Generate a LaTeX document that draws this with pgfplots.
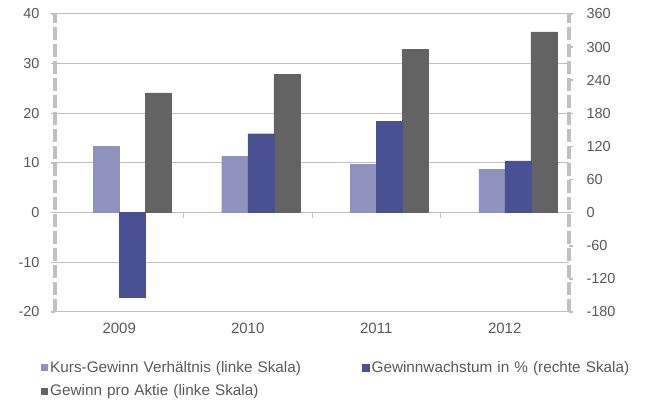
\documentclass[border=0pt]{standalone}
\usepackage{pgfplots}
\pgfplotsset{compat=1.18}
\usepackage{fontspec}
\setmainfont{Liberation Sans}

\definecolor{kgv}{RGB}{143,146,190}
\definecolor{gw}{RGB}{73,81,146}
\definecolor{gpa}{RGB}{99,99,99}
\definecolor{axgray}{RGB}{192,192,192}
\definecolor{txtgray}{RGB}{89,89,89}

\pgfplotsset{
  base/.style={
    scale only axis,
    width=514pt, height=298pt,
    xmin=-0.5, xmax=3.5,
    ybar, bar width=26pt,
    tick align=outside,
    major tick length=4pt,
    ytick style={draw=axgray, line width=1.5pt},
    /pgf/number format/assume math mode=true,
    tick label style={font=\fontsize{14.5}{17}\selectfont, text=txtgray},
    y axis line style={-, draw=axgray, line width=3.5pt, dash pattern=on 13pt off 4pt},
    legend image code/.code={\fill[##1] (0pt,-3.5pt) rectangle (7pt,3.5pt);},
  }
}

\begin{document}
\begin{tikzpicture}
\path[use as bounding box] (-55pt,-91pt) rectangle (590pt,312pt);
\begin{axis}[
  base,
  ymin=-20, ymax=40, ytick={-20,-10,...,40},
  axis x line*=bottom, axis y line*=left,
  x axis line style={-, draw=axgray, line width=1pt},
  xtick={0,1,2,3}, xticklabels={2009,2010,2011,2012},
  xtick style={draw=none},
  xticklabel style={yshift=-3pt, font=\fontsize{15}{17}\selectfont},
  yticklabel style={xshift=-8pt},
  ymajorgrids, grid style={draw=axgray, line width=1pt},
]
\addplot[fill=kgv, draw=kgv, bar shift=-13pt] coordinates {(0,13.3) (1,11.4) (2,9.7) (3,8.7)};
\addplot[fill=gpa, draw=gpa, bar shift=39pt] coordinates {(0,24.1) (1,27.9) (2,32.9) (3,36.4)};
\draw[axgray, line width=1pt] (axis cs:0.5,0) -- (axis cs:0.5,-1.1);
\draw[axgray, line width=1pt] (axis cs:1.5,0) -- (axis cs:1.5,-1.1);
\draw[axgray, line width=1pt] (axis cs:2.5,0) -- (axis cs:2.5,-1.1);
\end{axis}
\begin{axis}[
  base,
  ymin=-180, ymax=360, ytick={-180,-120,...,360},
  axis x line=none, axis y line*=right,
  yticklabel style={xshift=10pt},
  legend columns=2,
  legend cell align=left,
  legend style={at={(axis description cs:0,0)}, anchor=north west,
    xshift=-17pt, yshift=-45pt, draw=none, fill=none,
    font=\fontsize{15.3}{18}\selectfont, text=txtgray,
    row sep=7pt,
    nodes={text width=310pt, inner xsep=2pt}},
]
\addlegendimage{fill=kgv, draw=none}
\addlegendentry{Kurs-Gewinn Verhältnis (linke Skala)}
\addplot[fill=gw, draw=gw, bar shift=13pt] coordinates {(0,-153) (1,143) (2,165) (3,94)};
\addlegendentry{Gewinnwachstum in \% (rechte Skala)}
\addlegendimage{fill=gpa, draw=none}
\addlegendentry{Gewinn pro Aktie (linke Skala)}
\end{axis}
\end{tikzpicture}
\end{document}
